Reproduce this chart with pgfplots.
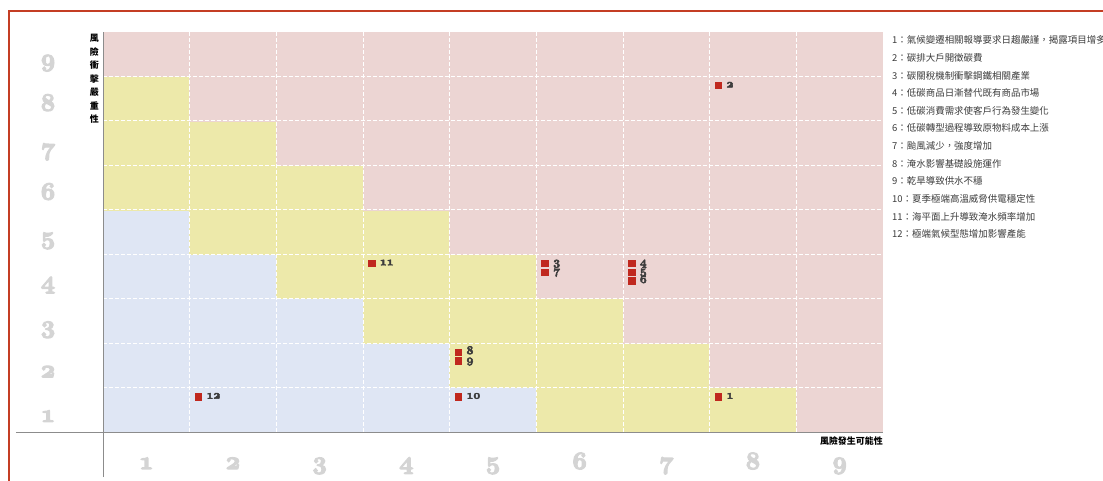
\documentclass[border=0pt]{standalone}
\usepackage{pgfplots}
\pgfplotsset{compat=1.18}
\usepackage{fontspec}
\newfontfamily\cjk{Noto Sans CJK TC}
\definecolor{riskred}{RGB}{192,40,30}
\definecolor{frame}{RGB}{196,62,36}
\definecolor{ticknum}{RGB}{212,212,212}
\definecolor{legtext}{RGB}{60,60,60}
\definecolor{axgray}{RGB}{140,140,140}
% bold old-style figures (cmmib), stroked a little to look heavier
\newcommand\os[1]{{\usefont{OML}{cmm}{b}{it}#1}}
\newcommand\heavy[2]{\special{pdf:literal direct 2 Tr #1 w}#2\special{pdf:literal direct 0 Tr}}

\begin{document}
\begin{tikzpicture}
\begin{axis}[
  at={(0,0)}, anchor=south west,
  scale only axis, width=780bp, height=400bp,
  xmin=0, xmax=9, ymin=0, ymax=9,
  axis line style={draw=none},
  axis on top,
  major tick length=0pt, minor tick length=0pt,
  xtick={0.5,1.5,...,8.5}, ytick={0.5,1.5,...,8.5},
  xticklabels={\os{1},\os{2},\os{3},\os{4},\os{5},\os{6},\os{7},\os{8},\os{9}},
  yticklabels={\os{1},\os{2},\os{3},\os{4},\os{5},\os{6},\os{7},\os{8},\os{9}},
  minor xtick={1,...,8}, minor ytick={1,...,8},
  xminorgrids, yminorgrids,
  minor grid style={white, dash pattern=on 4bp off 2bp, line width=0.8bp},
  xticklabel style={font=\fontsize{31}{31}\selectfont, text=ticknum, anchor=base, yshift=-37bp},
  yticklabel style={font=\fontsize{31}{31}\selectfont, text=ticknum, anchor=base, xshift=-55bp, yshift=-12bp},
  xticklabel={\heavy{1.2}{\os{\pgfmathparse{int(\tick+0.5)}\pgfmathresult}}},
  yticklabel={\heavy{1.2}{\os{\pgfmathparse{int(\tick+0.5)}\pgfmathresult}}},
  colormap={risk}{rgb255(0)=(223,230,244) rgb255(1)=(237,233,170) rgb255(2)=(236,213,211)},
  point meta min=0, point meta max=2,
]
% risk zones: 0 low, 1 medium, 2 high
\addplot[matrix plot*, mesh/cols=9, point meta=explicit] table[meta=c, row sep=\\] {
x y c \\
0.5 0.5 0 \\ 1.5 0.5 0 \\ 2.5 0.5 0 \\ 3.5 0.5 0 \\ 4.5 0.5 0 \\ 5.5 0.5 1 \\ 6.5 0.5 1 \\ 7.5 0.5 1 \\ 8.5 0.5 2 \\
0.5 1.5 0 \\ 1.5 1.5 0 \\ 2.5 1.5 0 \\ 3.5 1.5 0 \\ 4.5 1.5 1 \\ 5.5 1.5 1 \\ 6.5 1.5 1 \\ 7.5 1.5 2 \\ 8.5 1.5 2 \\
0.5 2.5 0 \\ 1.5 2.5 0 \\ 2.5 2.5 0 \\ 3.5 2.5 1 \\ 4.5 2.5 1 \\ 5.5 2.5 1 \\ 6.5 2.5 2 \\ 7.5 2.5 2 \\ 8.5 2.5 2 \\
0.5 3.5 0 \\ 1.5 3.5 0 \\ 2.5 3.5 1 \\ 3.5 3.5 1 \\ 4.5 3.5 1 \\ 5.5 3.5 2 \\ 6.5 3.5 2 \\ 7.5 3.5 2 \\ 8.5 3.5 2 \\
0.5 4.5 0 \\ 1.5 4.5 1 \\ 2.5 4.5 1 \\ 3.5 4.5 1 \\ 4.5 4.5 2 \\ 5.5 4.5 2 \\ 6.5 4.5 2 \\ 7.5 4.5 2 \\ 8.5 4.5 2 \\
0.5 5.5 1 \\ 1.5 5.5 1 \\ 2.5 5.5 1 \\ 3.5 5.5 2 \\ 4.5 5.5 2 \\ 5.5 5.5 2 \\ 6.5 5.5 2 \\ 7.5 5.5 2 \\ 8.5 5.5 2 \\
0.5 6.5 1 \\ 1.5 6.5 1 \\ 2.5 6.5 2 \\ 3.5 6.5 2 \\ 4.5 6.5 2 \\ 5.5 6.5 2 \\ 6.5 6.5 2 \\ 7.5 6.5 2 \\ 8.5 6.5 2 \\
0.5 7.5 1 \\ 1.5 7.5 2 \\ 2.5 7.5 2 \\ 3.5 7.5 2 \\ 4.5 7.5 2 \\ 5.5 7.5 2 \\ 6.5 7.5 2 \\ 7.5 7.5 2 \\ 8.5 7.5 2 \\
0.5 8.5 2 \\ 1.5 8.5 2 \\ 2.5 8.5 2 \\ 3.5 8.5 2 \\ 4.5 8.5 2 \\ 5.5 8.5 2 \\ 6.5 8.5 2 \\ 7.5 8.5 2 \\ 8.5 8.5 2 \\
};
% risk items
\addplot[only marks, mark=square*, mark size=3.3bp, riskred,
  point meta=explicit symbolic,
  nodes near coords={\heavy{0.5}{\os{\pgfplotspointmeta}}},
  every node near coord/.append style={anchor=mid west, xshift=8bp, inner sep=0pt,
    text=legtext, font=\fontsize{12}{12}\selectfont}]
  table[meta=lab, row sep=\\] {
x y lab \\
7.10 0.80 1 \\
7.10 7.80 2 \\
5.10 3.80 3 \\
6.10 3.80 4 \\
6.10 3.60 5 \\
6.10 3.40 6 \\
5.10 3.60 7 \\
4.10 1.80 8 \\
4.10 1.60 9 \\
4.10 0.80 10 \\
3.10 3.80 11 \\
1.10 0.80 12 \\
};
\end{axis}
\draw[axgray, line width=1bp] (0,-45bp) -- (0,400bp);
\draw[axgray, line width=1bp] (-87bp,0) -- (780bp,0);
\node[anchor=north east, inner sep=0pt, align=center,
  font=\cjk\bfseries\fontsize{9}{13.6}\selectfont]
  at (-4bp,398bp) {風\\險\\衝\\擊\\嚴\\重\\性};
\node[anchor=east, inner sep=0pt, font=\cjk\bfseries\fontsize{9}{9}\selectfont]
  at (780bp,-9bp) {風險發生可能性};
\foreach \t [count=\i] in {
  {1：氣候變遷相關報導要求日趨嚴謹，揭露項目增多},
  {2：碳排大戶開徵碳費},
  {3：碳關稅機制衝擊鋼鐵相關產業},
  {4：低碳商品日漸替代既有商品市場},
  {5：低碳消費需求使客戶行為發生變化},
  {6：低碳轉型過程導致原物料成本上漲},
  {7：颱風減少，強度增加},
  {8：淹水影響基礎設施運作},
  {9：乾旱導致供水不穩},
  {10：夏季極端高溫威脅供電穩定性},
  {11：海平面上升導致淹水頻率增加},
  {12：極端氣候型態增加影響產能}}
  \node[anchor=west, inner sep=0pt, text=legtext, font=\cjk\fontsize{9.5}{9.5}\selectfont]
    at (789bp,{391.6bp-(\i-1)*17.6bp}) {\t};
\draw[frame, line width=2.5bp] (-94bp,421bp) rectangle (1030bp,-80bp);
\pgfresetboundingbox
\useasboundingbox (-103bp,-49bp) rectangle (1000bp,432bp);
\end{tikzpicture}
\end{document}
